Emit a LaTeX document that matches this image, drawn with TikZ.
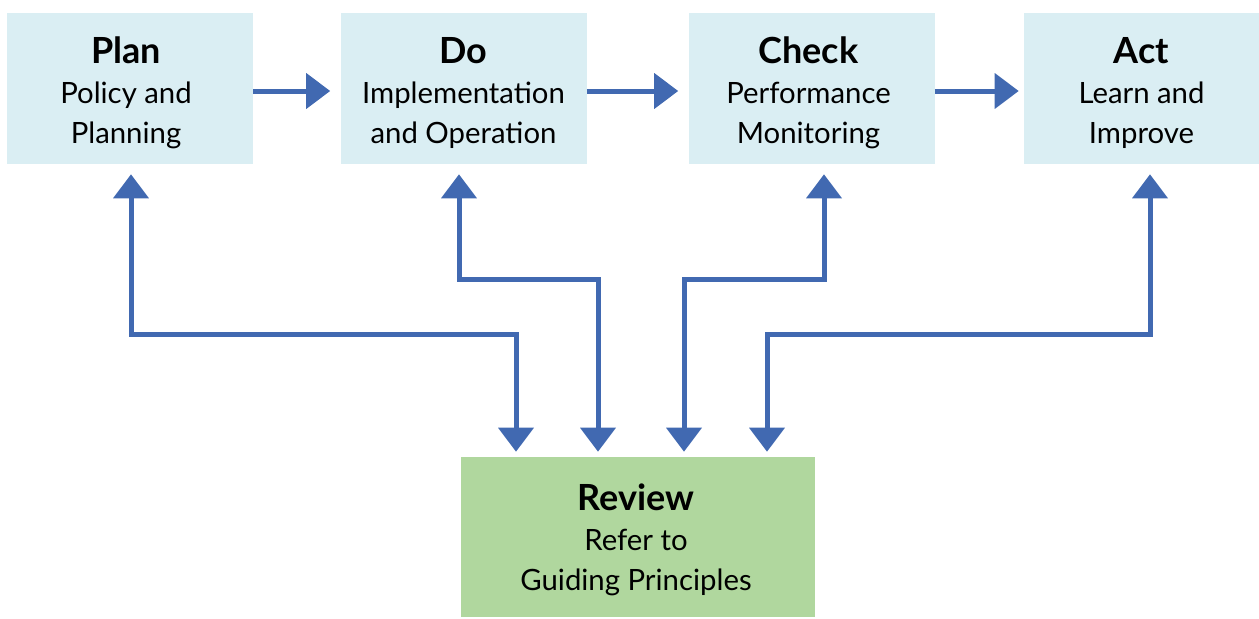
\documentclass[tikz,border=0pt]{standalone}
\usepackage{fontspec}
\setmainfont{Lato}
\usetikzlibrary{arrows.meta,calc}
\definecolor{boxblue}{HTML}{DAEEF3}
\definecolor{boxgreen}{RGB}{176,215,158}
\definecolor{arrblue}{HTML}{4169B1}
\tikzset{
  stage/.style={fill=boxblue, draw=none, minimum width=184.5pt, minimum height=113.25pt, inner sep=0pt},
  reviewbox/.style={fill=boxgreen, draw=none, minimum width=265.5pt, minimum height=120pt, inner sep=0pt},
  txt/.style={align=center, inner sep=0pt, font=\fontsize{22}{30}\selectfont},
  arr/.style={draw=arrblue, line width=3.75pt,
    -{Triangle[length=18pt,width=26pt]}},
  biarr/.style={draw=arrblue, line width=3.75pt,
    {Triangle[length=18pt,width=26pt]}-{Triangle[length=18pt,width=26pt]}},
}
\newcommand{\ttl}[1]{{\fontsize{27}{30}\selectfont\bfseries #1}}
\begin{document}
\begin{tikzpicture}[x=0.75pt,y=-0.75pt]
\useasboundingbox (0,0) rectangle (1259,618);
\node[stage] (plan)  at (130,88.5)    {};
\node[stage] (do)    at (463.5,88.5)  {};
\node[stage] (check) at (811.5,88.5)  {};
\node[stage, minimum width=176.25pt] (act) at (1141.5,88.5) {};
\node[reviewbox] (review) at (638,537) {};

\node[txt] (plantxt)  at ($(plan.center)+(-4,4)$)  {\ttl{Plan}\\Policy and\\Planning};
\node[txt] (dotxt)    at ($(do.center)+(0,4)$)    {\ttl{Do}\\Implementation\\and Operation};
\node[txt] (checktxt) at ($(check.center)+(-3,4)$) {\ttl{Check}\\Performance\\Monitoring};
\node[txt] (acttxt)   at ($(act.center)+(0,4)$)   {\ttl{Act}\\Learn and\\Improve};
\node[txt] (reviewtxt) at ($(review.center)+(-2,3)$) {\ttl{Review}\\Refer to\\Guiding Principles};

\draw[arr] ($(plan.east)+(0,2.5)$) -- ($(do.west)+(-10,2.5)$);
\draw[arr] ($(do.east)+(0,2.5)$) -- ($(check.west)+(-10,2.5)$);
\draw[arr] ($(check.east)+(0,2.5)$) -- ($(act.west)+(-5,2.5)$);

\draw[biarr] ($(plan.south)+(1,10)$) |- ($(review.north)+(-122,-122)$) -- ($(review.north)+(-122,-5)$);
\draw[biarr] ($(do.south)+(-4.5,10)$) |- ($(review.north)+(-40,-177)$) -- ($(review.north)+(-40,-5)$);
\draw[biarr] ($(check.south)+(12.5,10)$) |- ($(review.north)+(46,-177)$) -- ($(review.north)+(46,-5)$);
\draw[biarr] ($(act.south)+(8.5,10)$) |- ($(review.north)+(129,-122)$) -- ($(review.north)+(129,-5)$);
\end{tikzpicture}
\end{document}
